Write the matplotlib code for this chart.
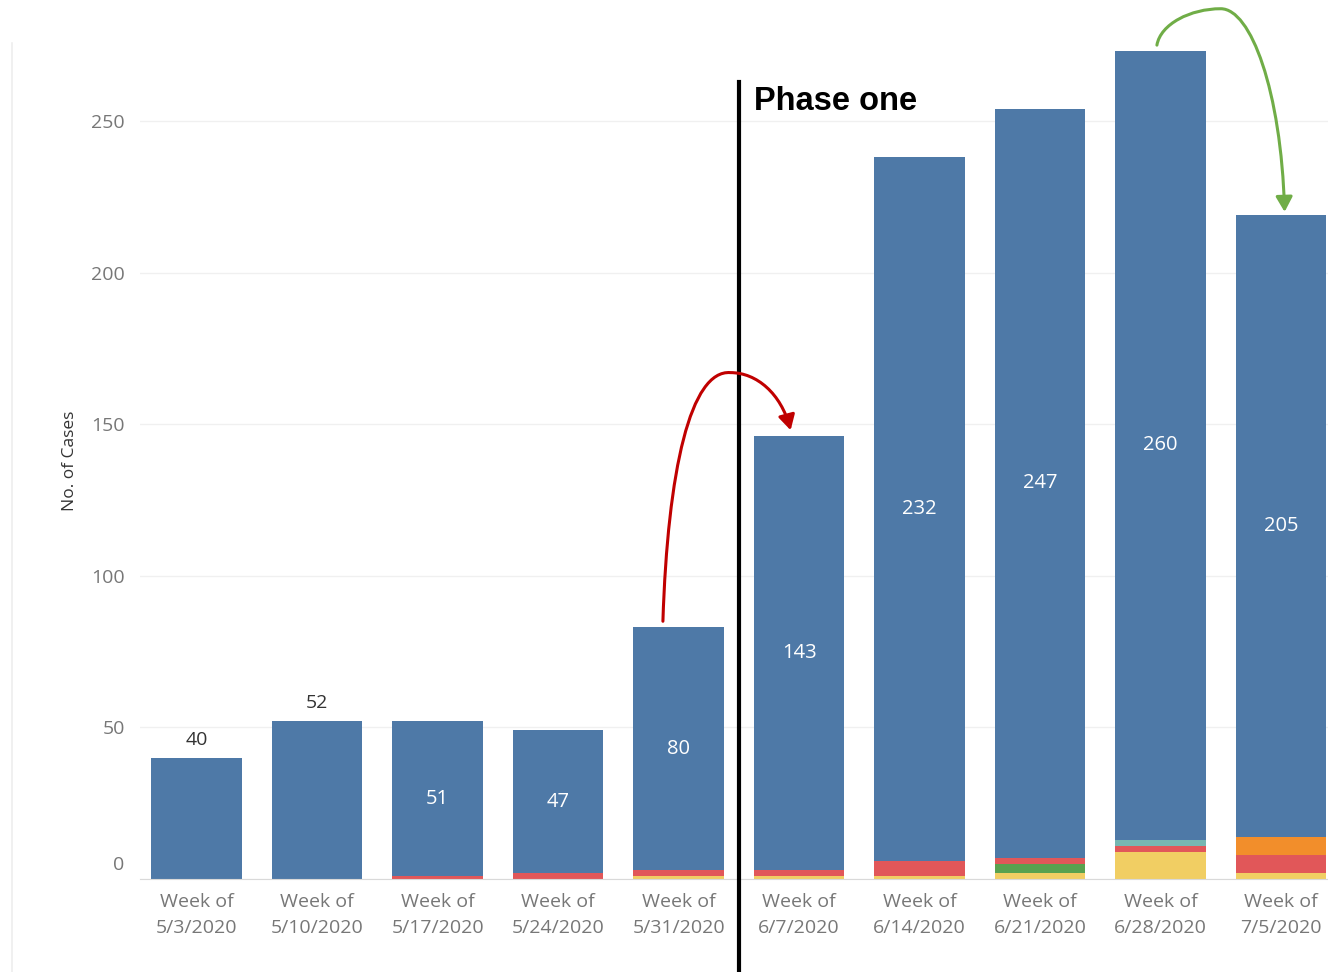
import matplotlib.pyplot as plt
import matplotlib.transforms as mtransforms
import numpy as np
from matplotlib.path import Path
from matplotlib.patches import FancyArrowPatch
from matplotlib.lines import Line2D

plt.rcParams['font.family'] = ['Open Sans', 'DejaVu Sans']

weeks = ['5/3/2020', '5/10/2020', '5/17/2020', '5/24/2020', '5/31/2020',
         '6/7/2020', '6/14/2020', '6/21/2020', '6/28/2020', '7/5/2020']
yellow = [0, 0, 0, 0, 1, 1, 1, 2, 9, 2]
green = [0, 0, 0, 0, 0, 0, 0, 3, 0, 0]
red = [0, 0, 1, 2, 2, 2, 5, 2, 2, 6]
teal = [0, 0, 0, 0, 0, 0, 0, 0, 2, 0]
orange = [0, 0, 0, 0, 0, 0, 0, 0, 0, 6]
blue = [40, 52, 51, 47, 80, 143, 232, 247, 260, 205]
outside_label = [True, True, False, False, False, False, False, False, False, False]

layers = [(yellow, '#F1CE63'), (green, '#59A14F'), (red, '#E15759'),
          (teal, '#76B7B2'), (orange, '#F28E2B'), (blue, '#4E79A7')]

fig = plt.figure(figsize=(13.28, 9.72), dpi=100)
ax = fig.add_axes([140/1328, 1-879/972, 1-140/1328, (879-43)/972])

x = np.arange(len(weeks))
bottom = np.zeros(len(weeks))
for vals, col in layers:
    ax.bar(x, vals, bottom=bottom, width=0.75, color=col, zorder=2)
    bottom = bottom + np.array(vals)
total = bottom

# labels for blue segment
base_blue = total - np.array(blue)
for i, v in enumerate(blue):
    if outside_label[i]:
        ax.text(i, total[i] + 3, str(v), ha='center', va='bottom',
                fontsize=14, color='#333333')
    else:
        ax.text(i, base_blue[i] + v / 2, str(v), ha='center', va='center',
                fontsize=14.5, color='white')

ax.set_xlim(-0.47, 9.39)
ax.set_ylim(0, 275.7)
ax.set_yticks([0, 50, 100, 150, 200, 250])
ax.set_xticks(x)
ax.set_xticklabels(['Week of\n' + w for w in weeks], fontsize=14, color='#666666',
                   linespacing=1.6)
ax.tick_params(axis='both', length=0, labelsize=14, labelcolor='#777777')
ax.tick_params(axis='y', pad=11)
ax.tick_params(axis='x', pad=10)
# the zero label sits a bit higher than its gridline
zero_lab = ax.get_yticklabels()[0]
zero_lab.set_transform(zero_lab.get_transform() +
                       mtransforms.ScaledTranslation(0, 16/100, fig.dpi_scale_trans))
ax.grid(axis='y', color='#f0f0f0', linewidth=1, zorder=0)
for s in ['top', 'right', 'left']:
    ax.spines[s].set_visible(False)
ax.spines['bottom'].set_color('#d9d9d9')
ax.set_ylabel('No. of Cases', fontsize=12.5, color='#333333', labelpad=9)

# phase divider
ax.plot([4.5, 4.5], [263, -31], color='black', linewidth=3, clip_on=False, zorder=5)
ax.text(4.63, 256.5, 'Phase one', fontsize=23.5, fontweight='bold', color='black',
        family=['Liberation Sans', 'DejaVu Sans'], va='center', ha='left')

# curved arrows
def curve_arrow(p0, c1, c2, pk, c3, c4, p1, col):
    verts = [p0, c1, c2, pk, c3, c4, p1]
    codes = [Path.MOVETO] + [Path.CURVE4] * 6
    arr = FancyArrowPatch(path=Path(verts, codes), arrowstyle='-|>,head_length=9,head_width=5',
                          color=col, linewidth=2.2, clip_on=False, zorder=6)
    ax.add_patch(arr)

i = 4
curve_arrow((i - 0.13, total[i] + 2), (i - 0.09, 135), (i + 0.1, 168),
            (i + 0.43, 167), (i + 0.65, 167), (i + 0.85, 160), (i + 0.93, total[i + 1] + 2),
            '#C00000')
i = 8
curve_arrow((i - 0.03, total[i] + 2), (i + 0.0, 282), (i + 0.25, 287),
            (i + 0.5, 287), (i + 0.75, 287), (i + 1.0, 260), (i + 1.03, total[i + 1] + 1),
            '#70AD47')

fig.add_artist(Line2D([12/1328, 12/1328], [0, 1-43/972], color='#eeeeee', linewidth=1.2))

fig.savefig('out.png', dpi=100, facecolor='white')
